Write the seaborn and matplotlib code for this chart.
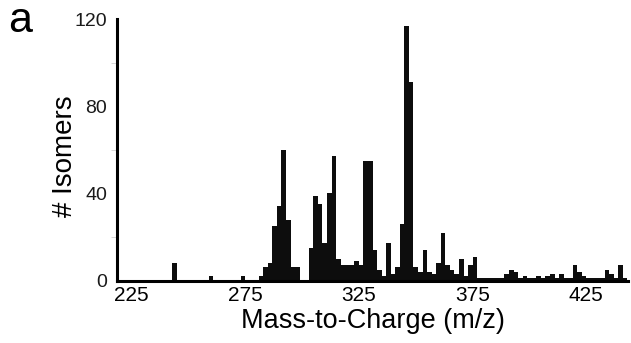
import numpy as np
import pandas as pd
import matplotlib
matplotlib.use("Agg")
import matplotlib.pyplot as plt
import seaborn as sns

# ---- data ----
mz_centers = list(range(220, 444, 2))
isomer_counts = [
    0, 0, 0, 0, 0, 0, 0, 0, 0, 0,          # 220-238
    0, 0, 8, 0, 0, 0, 0, 0, 0, 0,          # 240-258
    2, 0, 0, 0, 0, 0, 0, 2, 0, 0,          # 260-278
    0, 2, 6, 8, 25, 34, 60, 28, 6, 6,      # 280-298
    0, 0, 15, 39, 35, 17, 40, 57, 10, 7,   # 300-318
    7, 7, 9, 7, 55, 55, 14, 5, 2, 17,      # 320-338
    3, 6, 26, 117, 91, 6, 4, 14, 4, 3,     # 340-358
    8, 22, 7, 5, 3, 10, 2, 7, 11, 1,       # 360-378
    1, 1, 1, 1, 1, 3, 5, 4, 1, 2,          # 380-398
    1, 1, 2, 1, 2, 3, 1, 3, 1, 1,          # 400-418
    7, 4, 2, 1, 1, 1, 1, 5, 3, 1,          # 420-438
    7, 1,                                  # 440-442
]
x_ticks = [225, 275, 325, 375, 425]
y_ticks = [0, 40, 80, 120]
y_minor = [20, 60, 100]

df = pd.DataFrame({"mz": mz_centers, "count": isomer_counts})

sns.set_theme(style="white")
plt.rcParams["font.family"] = ["Liberation Sans", "DejaVu Sans"]

fig = plt.figure(figsize=(6.31, 3.43), dpi=100)
ax = fig.add_axes([117 / 631, 1 - 280.5 / 343, (628 - 117) / 631, (280.5 - 19.3) / 343])

sns.barplot(data=df, x="mz", y="count", native_scale=True, width=1.0, ax=ax,
            color="#0d0d0d", saturation=1, linewidth=0, errorbar=None)

ax.set_xlim(218.7, 443.3)
ax.set_ylim(0, 120)
ax.set_xticks(x_ticks)
ax.set_xticklabels([str(t) for t in x_ticks])
ax.set_yticks(y_ticks)
ax.set_yticks(y_minor, minor=True)

for s in ["top", "right"]:
    ax.spines[s].set_visible(False)
for s in ["left", "bottom"]:
    ax.spines[s].set_linewidth(2.2)
    ax.spines[s].set_color("black")

ax.tick_params(axis="x", length=0, labelsize=15, pad=4, labelcolor="black")
ax.tick_params(axis="y", which="major", length=4, width=0.6, color="#d0d0d0",
               labelsize=14, pad=3, labelcolor="#1a1a1a")
ax.tick_params(axis="y", which="minor", length=4, width=0.6, color="#d0d0d0", left=True)

ax.set_xlabel("Mass-to-Charge (m/z)", fontsize=19.5, labelpad=2, color="black")
ax.set_ylabel("# Isomers", fontsize=20, color="black")
ax.yaxis.set_label_coords(-0.076, 0.477)

fig.text(0.0127, 1 - 32.5 / 343, "a", fontsize=31, va="baseline", ha="left", color="black")

fig.savefig("out.png", dpi=100)
